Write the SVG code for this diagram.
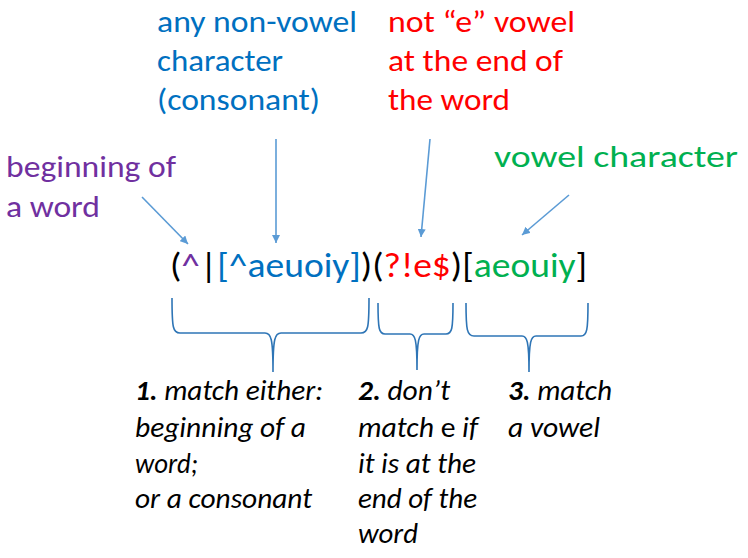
<svg xmlns="http://www.w3.org/2000/svg" width="748" height="558" viewBox="0 0 748 558">
<style>
text{font-family:Carlito,Lato,"Noto Sans",sans-serif}
.lbl{font-size:30px}
.rx{font-size:35px}
.note{font-size:28px;font-style:italic;fill:#000}
.blue{fill:#0070c0}
.red{fill:#ff0000}
.purple{fill:#7030a0}
.green{fill:#00b050}
.blk{fill:#000}
.arr{stroke:#5b9bd5;stroke-width:1.6;fill:none;marker-end:url(#ah)}
.brace{stroke:#2e75b6;stroke-width:1.6;fill:none}
</style>
<defs>
<marker id="ah" viewBox="0 0 10 10" refX="10" refY="5" markerWidth="8" markerHeight="8" orient="auto" markerUnits="userSpaceOnUse">
<path d="M0,0 L10,5 L0,10 Z" fill="#5b9bd5"/>
</marker>
</defs>
<rect width="748" height="558" fill="#fff"/>
<g id="label-consonant" class="lbl blue">
<text x="157" y="32" textLength="200" lengthAdjust="spacingAndGlyphs">any non-vowel</text>
<text x="157" y="71" textLength="126" lengthAdjust="spacingAndGlyphs">character</text>
<text x="157" y="110" textLength="163" lengthAdjust="spacingAndGlyphs">(consonant)</text>
</g>
<g id="label-not-e" class="lbl red">
<text x="388" y="32" textLength="187" lengthAdjust="spacingAndGlyphs">not “e” vowel</text>
<text x="388" y="71" textLength="175" lengthAdjust="spacingAndGlyphs">at the end of</text>
<text x="388" y="110" textLength="122" lengthAdjust="spacingAndGlyphs">the word</text>
</g>
<g id="label-beginning" class="lbl purple">
<text x="6" y="177" textLength="170" lengthAdjust="spacingAndGlyphs">beginning of</text>
<text x="6" y="217" textLength="94" lengthAdjust="spacingAndGlyphs">a word</text>
</g>
<g id="label-vowel" class="lbl green">
<text x="494" y="167" textLength="244" lengthAdjust="spacingAndGlyphs">vowel character</text>
</g>
<g id="regex" class="rx">
<text x="170" y="277" textLength="417" lengthAdjust="spacingAndGlyphs"><tspan class="blk">(</tspan><tspan class="purple">^</tspan><tspan class="blk">|</tspan><tspan class="blue">[^aeuoiy]</tspan><tspan class="blk">)(</tspan><tspan class="red">?!e$</tspan><tspan class="blk">)[</tspan><tspan class="green">aeouiy</tspan><tspan class="blk">]</tspan></text>
</g>
<g id="connectors">
<line class="arr" x1="142" y1="197" x2="188" y2="244"/>
<line class="arr" x1="276" y1="139" x2="276" y2="243"/>
<line class="arr" x1="430" y1="139" x2="421" y2="237"/>
<line class="arr" x1="569" y1="195" x2="522" y2="235"/>
<path class="brace" d="M172,298 C172,328 173,333 180,333 L265,333 C271,333 273,338 273,372 C273,338 275,333 281,333 L361,333 C368,333 369,328 369,298"/>
<path class="brace" d="M378,303 C378,329 379,334 385,334 L410,334 C415,334 417,339 417,370 C417,339 419,334 424,334 L446,334 C452,334 453,329 453,303"/>
<path class="brace" d="M466,303 C466,330 467,336 474,336 L522,336 C527,336 529,341 529,372 C529,341 531,336 536,336 L581,336 C587,336 588,330 588,303"/>
</g>
<g id="note-1" class="note">
<text x="135" y="400" textLength="188" lengthAdjust="spacingAndGlyphs"><tspan font-weight="bold">1.</tspan> match either:</text>
<text x="135" y="437" textLength="171" lengthAdjust="spacingAndGlyphs">beginning of a</text>
<text x="135" y="473" textLength="63" lengthAdjust="spacingAndGlyphs">word;</text>
<text x="135" y="508" textLength="177" lengthAdjust="spacingAndGlyphs">or a consonant</text>
</g>
<g id="note-2" class="note">
<text x="358" y="400" textLength="92" lengthAdjust="spacingAndGlyphs"><tspan font-weight="bold">2.</tspan> don’t</text>
<text x="358" y="437" textLength="120" lengthAdjust="spacingAndGlyphs">match <tspan font-style="normal">e</tspan> if</text>
<text x="358" y="473" textLength="118" lengthAdjust="spacingAndGlyphs">it is at the</text>
<text x="358" y="508" textLength="119" lengthAdjust="spacingAndGlyphs">end of the</text>
<text x="358" y="543" textLength="60" lengthAdjust="spacingAndGlyphs">word</text>
</g>
<g id="note-3" class="note">
<text x="508" y="400" textLength="104" lengthAdjust="spacingAndGlyphs"><tspan font-weight="bold">3.</tspan> match</text>
<text x="508" y="437" textLength="92" lengthAdjust="spacingAndGlyphs">a vowel</text>
</g>
</svg>
